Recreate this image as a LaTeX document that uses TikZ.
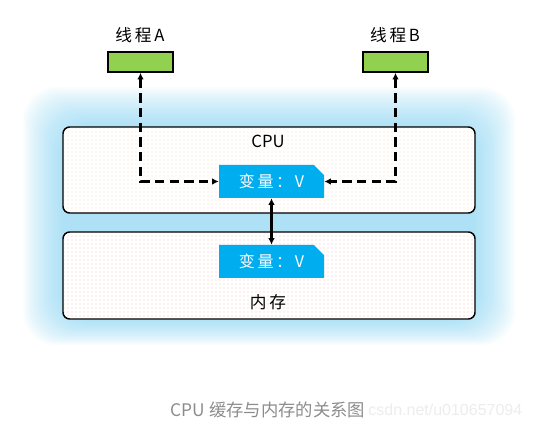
\documentclass[tikz,border=0pt]{standalone}
\usepackage{fontspec}
\setmainfont{Liberation Sans}
\newfontfamily\cjk{Noto Sans CJK SC}
\usepackage{xcolor}
\usetikzlibrary{patterns,arrows.meta,shapes.misc}
\definecolor{thgreen}{RGB}{146,208,80}
\definecolor{varblue}{RGB}{0,174,239}
\definecolor{glow}{RGB}{120,205,240}
\tikzset{
  thread/.style={draw, line width=1.2pt, fill=thgreen, minimum width=48.75pt, minimum height=15pt, inner sep=0pt},
  varbox/.style={chamfered rectangle, chamfered rectangle corners=north east, chamfered rectangle xsep=4pt,
    fill=varblue, text=white, minimum width=78.75pt, minimum height=24.75pt, inner sep=0pt, font=\cjk\fontsize{12}{14}\selectfont},
  dasharrow/.style={line width=1.7pt, dash pattern=on 7pt off 4pt, {Latex[length=5pt,width=5pt]}-{Latex[length=5pt,width=5pt]}},
  solidarrow/.style={line width=1.7pt, {Latex[length=5pt,width=5pt]}-{Latex[length=5pt,width=5pt]}},
  label/.style={font=\cjk\fontsize{12.5}{14}\selectfont}
}
\begin{document}
\begin{tikzpicture}[x=0.75pt, y=-0.75pt]
    \useasboundingbox (0,0) rectangle (533,428);
    % blue glow behind the boxes
    \foreach \i in {1,...,20}
      \fill[glow, opacity=0.045, rounded corners=25] (63-2*\i,127-2*\i) rectangle (475+2*\i,319+1.3*\i);
    \fill[glow!60] (63,213) rectangle (475,232);
    % cpu and memory
    \fill[white, rounded corners=5] (63,127) rectangle (475,213);
    \fill[pattern=dots, pattern color=orange!25, rounded corners=5] (63,127) rectangle (475,213);
    \draw[line width=1.1pt, rounded corners=5] (63,127) rectangle (475,213);
    \fill[white, rounded corners=5] (63,232) rectangle (475,319);
    \fill[pattern=dots, pattern color=red!25, rounded corners=5] (63,232) rectangle (475,319);
    \draw[line width=1.1pt, rounded corners=5] (63,232) rectangle (475,319);
    \node[label] (cpulbl) at (268,141) {CPU};
    \node[label] (memlbl) at (268,302) {内\,存};
    % variables
    \node[varbox] (cv) at (271.5,181.5) {变\,量\,：\,V};
    \node[varbox] (mv) at (271.5,261.5) {变\,量\,：\,V};
    % threads
    \node[label] (talbl) at (140,35) {线\,程\,A};
    \node[label] (tblbl) at (395,35) {线\,程\,B};
    \node[thread] (ta) at (140.5,62) {};
    \node[thread] (tb) at (395.5,62) {};
    \draw[dasharrow] (ta.south) |- (cv.west);
    \draw[dasharrow] (tb.south) |- (cv.east);
    \draw[solidarrow] (cv.south) -- (mv.north);
    % caption
    \node[anchor=east, text=gray!15, font=\fontsize{12}{14}\selectfont] (wm) at (527,410) {csdn.net/u010657094};
    \node[text=gray!90, font=\cjk\fontsize{13}{15}\selectfont] (cap) at (268,410) {CPU 缓存与内存的关系图};
\end{tikzpicture}
\end{document}
